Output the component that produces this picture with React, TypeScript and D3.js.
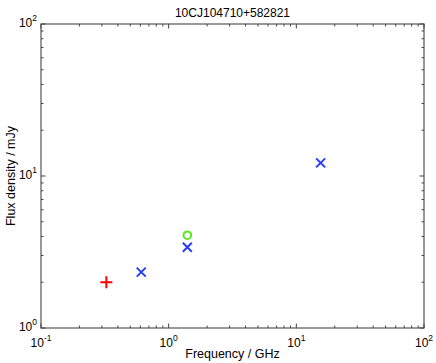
import React, { useEffect, useRef } from "react";
import * as d3 from "d3";

const title = "10CJ104710+582821";
const xDomain = [0.1, 100];
const yDomain = [1, 100];
const xMajor = [0.1, 1, 10, 100];
const yMajor = [1, 10, 100];

const plusPoints = [{ f: 0.325, s: 2.0 }];
const crossPoints = [
  { f: 0.61, s: 2.33 },
  { f: 1.4, s: 3.4 },
  { f: 15.5, s: 12.2 },
];
const circlePoints = [{ f: 1.4, s: 4.08 }];

const W = 436;
const H = 363;
const margin = { left: 41, right: 12, top: 24, bottom: 35 };

const minorTicks = (lo: number, hi: number) => {
  const out: number[] = [];
  for (let d = lo; d < hi; d *= 10) {
    for (let k = 2; k <= 9; k++) out.push(d * k);
  }
  return out;
};

const App = () => {
  const svgRef = useRef<SVGSVGElement>(null);

  useEffect(() => {
    const svg = d3.select(svgRef.current);
    svg.selectAll("*").remove();
    const w = W - margin.left - margin.right;
    const h = H - margin.top - margin.bottom;

    const x = d3.scaleLog().domain(xDomain).range([0, w]);
    const y = d3.scaleLog().domain(yDomain).range([h, 0]);

    const g = svg
      .append("g")
      .attr("transform", `translate(${margin.left},${margin.top})`);

    // box
    g.append("rect")
      .attr("x", 0)
      .attr("y", 0)
      .attr("width", w)
      .attr("height", h)
      .attr("fill", "none")
      .attr("stroke", "#555")
      .attr("stroke-width", 1.2);

    const tickColor = "#444";
    // x ticks (bottom and top, inward)
    const xt = [
      ...xMajor.map((v) => ({ v, len: 4.5 })),
      ...minorTicks(0.1, 100).map((v) => ({ v, len: 2.5 })),
    ];
    xt.forEach(({ v, len }) => {
      g.append("line")
        .attr("x1", x(v)).attr("x2", x(v))
        .attr("y1", h).attr("y2", h - len)
        .attr("stroke", tickColor);
      g.append("line")
        .attr("x1", x(v)).attr("x2", x(v))
        .attr("y1", 0).attr("y2", len)
        .attr("stroke", tickColor);
    });
    const yt = [
      ...yMajor.map((v) => ({ v, len: 4.5 })),
      ...minorTicks(1, 100).map((v) => ({ v, len: 2.5 })),
    ];
    yt.forEach(({ v, len }) => {
      g.append("line")
        .attr("x1", 0).attr("x2", len)
        .attr("y1", y(v)).attr("y2", y(v))
        .attr("stroke", tickColor);
      g.append("line")
        .attr("x1", w).attr("x2", w - len)
        .attr("y1", y(v)).attr("y2", y(v))
        .attr("stroke", tickColor);
    });

    const font = "'Liberation Sans', Arial, sans-serif";
    const exp = (v: number) => Math.round(Math.log10(v));

    // x tick labels
    xMajor.forEach((v) => {
      const t = g.append("text")
        .attr("x", x(v))
        .attr("y", h + 19)
        .attr("text-anchor", "middle")
        .attr("font-family", font)
        .attr("font-size", 12)
        .attr("fill", "#000");
      t.append("tspan").text("10");
      t.append("tspan")
        .attr("dy", -6)
        .attr("font-size", 8.5)
        .text(exp(v));
    });

    // y tick labels
    yMajor.forEach((v) => {
      const t = g.append("text")
        .attr("x", -4)
        .attr("y", y(v) + 3)
        .attr("text-anchor", "end")
        .attr("font-family", font)
        .attr("font-size", 12)
        .attr("fill", "#000");
      t.append("tspan").text("10");
      t.append("tspan")
        .attr("dy", -6)
        .attr("font-size", 8.5)
        .text(exp(v));
    });

    // title and axis labels
    svg.append("text")
      .attr("x", margin.left + w / 2)
      .attr("y", 17)
      .attr("text-anchor", "middle")
      .attr("font-family", font)
      .attr("font-size", 12)
      .text(title);
    svg.append("text")
      .attr("x", margin.left + w / 2)
      .attr("y", H - 5)
      .attr("text-anchor", "middle")
      .attr("font-family", font)
      .attr("font-size", 12.5)
      .text("Frequency / GHz");
    svg.append("text")
      .attr("transform", `translate(15,${margin.top + h / 2}) rotate(-90)`)
      .attr("text-anchor", "middle")
      .attr("font-family", font)
      .attr("font-size", 12.5)
      .text("Flux density / mJy");

    // markers
    plusPoints.forEach((d) => {
      const cx = x(d.f), cy = y(d.s), r = 6;
      g.append("path")
        .attr("d", `M${cx - r},${cy}H${cx + r}M${cx},${cy - r}V${cy + r}`)
        .attr("stroke", "#ff0000")
        .attr("stroke-width", 2);
    });
    crossPoints.forEach((d) => {
      const cx = x(d.f), cy = y(d.s), r = 4.5;
      g.append("path")
        .attr("d", `M${cx - r},${cy - r}L${cx + r},${cy + r}M${cx - r},${cy + r}L${cx + r},${cy - r}`)
        .attr("stroke", "#2a3cf5")
        .attr("stroke-width", 2);
    });
    circlePoints.forEach((d) => {
      g.append("circle")
        .attr("cx", x(d.f))
        .attr("cy", y(d.s))
        .attr("r", 3.8)
        .attr("fill", "none")
        .attr("stroke", "#55e81a")
        .attr("stroke-width", 2);
    });
  }, []);

  return (
    <svg
      ref={svgRef}
      width={W}
      height={H}
      style={{ position: "absolute", left: 0, top: 0, background: "#fff" }}
    />
  );
};

export default App;
